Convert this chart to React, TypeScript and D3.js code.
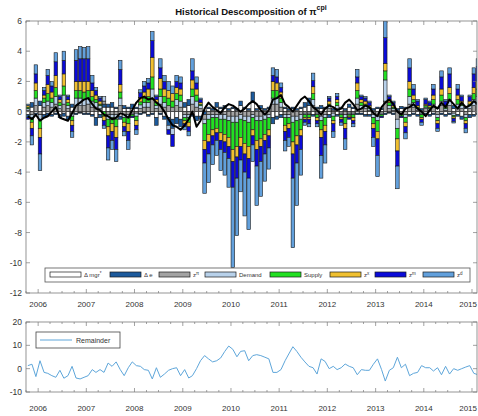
import React from "react";
import * as d3 from "d3";

// ---------- data (monthly, first month = Oct 2005) ----------
const mgr = [-0.2,0.3,-0.1,0.4,-0.2,-0.1,-0.2,-0.1,-0.2,-0.1,-0.3,0.3,-0.1,-0.05,-0.1,-0.1,-0.2,-0.4,-0.2,0.3,0.3,0.3,0.2,-0.3,0.2,0.2,0.2,0.2,-0.1,-0.05,-0.2,-0.1,-0.4,-0.1,-0.3,-0.4,-0.5,-0.4,-0.5,0.3,0.4,-0.2,-0.3,-0.3,0.1,0.2,0.1,0.3,0.2,0.2,0.1,0.2,0.1,0.4,0.2,0.1,0.6,0.1,0.2,0.1,0.2,-0.4,-0.3,-0.2,0.2,0.1,0.2,0.1,0.2,0.3,0.4,-0.2,0.2,0.2,0.2,-0.2,0.1,-0.2,0.2,0.1,0.3,0.2,-0.1,-0.1,-0.2,-0.2,0.1,0.2,0.15,-0.1,-0.05,-0.1,0.1,0.2,0.2,-0.2,-0.1,-0.2,0.1,-0.1,-0.2,-0.1,0.2,-0.1,-0.2,-0.1,0.2,-0.2,-0.3,0.2,-0.2,-0.2,-0.1];
const dE = [-0.2,0.3,-0.1,0.3,-0.2,-0.2,-0.1,-0.1,-0.2,-0.2,-0.2,0.2,-0.1,-0.05,-0.1,-0.1,-0.1,-0.5,-0.2,0.2,0.2,0.3,0.1,-0.2,0.2,0.1,0.3,0.1,-0.1,-0.05,-0.1,-0.1,-0.5,-0.1,-0.2,-0.5,-0.6,-0.4,-0.5,0.3,0.4,-0.1,-0.3,-0.2,-0.2,0.1,0.1,0.3,0.1,0.2,0.1,0.1,0.1,0.3,0.1,0.1,0.7,0.1,0.2,0.1,0.1,-0.4,-0.2,-0.2,0.1,0.1,0.1,0.1,0.1,0.3,0.5,-0.1,0.1,0.2,0.1,-0.2,0.1,-0.1,0.1,0.1,0.2,0.1,-0.1,-0.1,-0.1,-0.1,0.1,0.1,0.1,-0.1,-0.05,-0.1,0.1,0.15,0.1,-0.1,-0.1,-0.1,0.1,-0.1,-0.1,-0.1,0.1,-0.1,-0.1,-0.1,0.2,-0.1,-0.2,0.1,-0.2,-0.1,-0.1];
const zPi = [0.1,-0.2,0.4,-0.2,0.3,0.4,0.3,0.5,0.2,0.5,0.2,-0.1,0.4,0.4,0.4,0.5,0.3,0.3,0.2,0.2,-0.2,-0.2,-0.2,0.4,-0.2,-0.2,-0.1,-0.1,0.2,0.3,0.3,0.8,0.2,0.5,0.3,0.4,0.3,0.4,0.3,-0.2,-0.2,0.5,0.3,0.2,-0.3,-0.2,-0.2,-0.2,-0.2,-0.2,-0.3,-0.3,-0.3,-0.2,-0.3,-0.3,-0.2,-0.3,-0.3,-0.2,-0.2,0.5,0.5,0.3,-0.2,-0.2,-0.3,-0.3,-0.2,-0.1,-0.1,0.4,-0.1,-0.3,-0.2,0.2,-0.1,0.2,-0.1,-0.2,-0.1,-0.1,0.5,0.2,0.2,0.1,-0.2,-0.3,-0.1,0.7,0.2,0.1,-0.5,-0.1,-0.2,0.5,0.3,0.1,-0.1,0.2,0.1,0.3,-0.2,0.4,0.1,0.4,-0.1,0.3,0.2,-0.2,0.2,0.4,0.5];
const demand = [0.1,-0.2,0.5,-0.3,0.3,0.3,0.3,0.5,0.2,0.6,0.2,-0.2,0.5,0.5,0.4,0.4,0.4,0.3,0.2,0.3,-0.3,-0.2,-0.3,0.5,-0.2,-0.2,-0.1,-0.2,0.25,0.3,0.3,0.7,0.2,0.5,0.3,-0.3,-0.4,0.4,0.4,-0.2,-0.2,0.5,0.4,0.2,-0.3,-0.3,-0.2,-0.2,-0.3,-0.3,-0.3,-0.4,-0.4,-0.3,-0.3,-0.4,-0.2,-0.3,-0.3,-0.3,-0.2,0.4,0.4,0.3,-0.2,-0.2,-0.4,-0.3,-0.3,-0.1,-0.1,0.4,-0.1,-0.3,-0.2,0.2,-0.2,0.2,-0.1,-0.2,-0.1,-0.1,0.4,0.2,0.2,0.1,-0.2,-0.3,-0.1,1.4,0.2,0.1,-0.6,-0.1,-0.2,0.5,0.3,0.1,-0.1,0.1,0.1,0.2,-0.2,0.3,0.1,0.4,-0.15,0.2,0.2,-0.2,0.2,0.4,0.5];
const supply = [0.1,-0.3,0.5,-0.6,0.3,0.5,0.3,0.6,0.2,0.6,0.2,-0.3,0.5,0.5,0.5,0.5,0.3,0.2,0.1,-0.3,-0.5,-0.4,-0.5,0.4,-0.3,-0.4,-0.1,-0.3,0.2,0.3,0.4,0.8,0.2,0.5,0.4,0.5,0.4,0.4,0.4,-0.2,-0.3,0.5,0.4,0.1,-1.1,-1.0,-0.8,-0.7,-0.9,-1.0,-1.1,-1.8,-1.6,-1.2,-1.5,-1.6,-0.8,-1.3,-1.2,-1.0,-0.8,0.5,0.5,0.3,-0.5,-0.4,-1.3,-1.0,-0.7,-0.2,-0.2,0.4,-0.2,-0.6,-0.5,0.1,-0.3,0.2,-0.2,-0.4,-0.1,-0.2,0.5,0.2,0.1,0.1,-0.4,-0.7,-0.1,0.6,0.2,0.1,-0.7,-0.1,-0.3,0.5,0.2,0.1,-0.2,0.1,0.1,0.3,-0.2,0.4,0.1,0.4,-0.1,0.3,0.1,-0.2,0.1,0.4,0.5];
const zX = [0.1,-0.4,0.5,-0.6,0.2,0.6,0.4,0.8,0.2,0.8,0.2,-0.3,0.6,0.6,0.7,0.6,0.4,0.3,0.2,-0.3,-0.6,-0.5,-0.7,0.5,-0.3,-0.5,0.0,-0.3,0.3,0.4,0.5,1.3,0.2,0.7,0.5,0.5,0.5,0.4,0.4,-0.2,-0.3,0.6,0.4,0.1,-0.6,-0.5,-0.4,-0.3,-0.5,-0.5,-0.6,-0.8,-0.7,-0.6,-0.7,-0.8,-0.4,-0.6,-0.5,-0.4,-0.4,0.6,0.5,0.4,-0.4,-0.3,-0.8,-0.6,-0.4,-0.1,-0.1,0.45,-0.2,-0.5,-0.4,0.2,-0.2,0.2,-0.1,-0.3,-0.1,-0.2,0.5,0.2,0.2,0.1,-0.3,-0.5,0.0,0.5,0.2,0.1,-0.8,0.0,-0.3,0.5,0.3,0.1,-0.1,0.1,0.1,0.3,-0.2,0.4,0.1,0.4,-0.1,0.3,0.2,-0.2,0.2,0.4,0.5];
const zM = [-0.1,-0.5,0.6,-1.1,0.3,0.6,0.4,0.9,0.2,0.9,0.2,-0.4,1.4,1.5,1.5,1.5,0.5,0.3,0.2,-0.3,-0.8,-0.6,-0.8,1.0,-0.3,-0.6,-0.1,-0.3,0.3,0.4,0.4,1.1,0.2,0.7,0.5,-0.3,-0.8,0.4,0.4,-0.2,-0.3,0.6,0.4,0.2,-0.9,-0.8,-0.6,-0.5,-0.6,-0.7,-0.8,-1.7,-1.4,-0.9,-1.2,-1.3,-0.6,-1.1,-1.0,-0.9,-0.8,0.4,0.4,0.3,-0.6,-0.6,-1.6,-1.2,-0.9,-0.2,-0.3,0.4,-0.2,-1.2,-0.9,0.2,-0.5,0.2,-0.2,-0.7,-0.1,-0.2,0.4,0.2,0.2,0.2,-0.6,-1.1,-0.1,1.7,0.2,0.2,-1.0,-0.1,-0.4,0.9,0.4,0.3,-0.2,0.3,0.2,0.4,-0.3,0.8,0.3,0.9,-0.2,0.4,0.3,-0.3,0.3,0.9,1.0];
const zD = [0.1,-0.6,0.6,-1.1,0.2,0.4,0.3,0.6,0.1,0.6,0.1,-0.4,0.7,0.8,0.75,0.8,0.5,0.2,0.1,-0.2,-0.8,-0.6,-0.8,0.6,-0.3,-0.6,0.0,-0.3,0.2,0.3,0.3,0.6,0.1,0.6,0.4,0.6,0.5,0.4,0.4,-0.2,-0.3,0.8,0.4,0.1,-2.0,-1.9,-1.3,-1.0,-1.4,-1.5,-1.9,-5.3,-3.8,-2.1,-2.9,-3.4,-1.1,-2.6,-2.3,-1.8,-1.4,0.5,0.5,0.3,-0.7,-0.6,-4.6,-2.8,-1.7,-0.2,-0.2,0.5,-0.2,-1.5,-1.2,0.1,-0.4,0.2,-0.2,-0.7,0.0,-0.2,0.5,0.1,0.1,0.1,-0.6,-1.4,0.0,1.1,0.1,0.1,-1.5,0.0,-0.4,0.6,0.3,0.1,-0.2,0.1,0.1,0.3,-0.2,0.4,0.1,0.4,-0.1,0.3,0.1,-0.3,0.1,0.4,0.5];
const actual = [-0.3,-0.5,-0.2,-0.6,-0.4,-0.3,0.0,0.3,-0.4,-0.5,-0.6,-0.1,0.4,0.6,0.8,0.9,0.5,0.2,0.1,-0.2,-0.3,-0.5,-0.4,-0.1,-0.2,-0.4,0.1,0.6,0.9,1.0,0.8,0.9,0.6,0.4,0.0,-0.5,-0.9,-1.0,-1.2,-0.9,-0.5,0.0,-1.0,-0.6,0.2,0.6,0.3,0.1,-0.1,0.3,0.5,0.4,0.2,0.0,0.2,0.5,0.7,0.5,0.1,-0.2,0.1,0.8,0.9,1.1,0.5,0.3,0.0,0.4,0.8,1.0,0.7,0.3,0.1,-0.2,0.2,0.4,0.3,0.1,0.2,0.6,0.8,0.5,0.1,0.2,0.4,0.3,-0.1,-0.3,0.3,0.6,0.8,0.5,0.0,-0.2,0.2,0.3,0.5,0.2,0.0,-0.3,0.1,0.4,0.2,0.6,0.3,0.8,0.5,0.2,0.6,0.3,0.4,0.7,0.5];
const remainder = [1.3,1.9,-3.4,3.4,-1.6,-2,-3,-3.7,-0.7,-4.1,-3,1,-4,-4.4,-3.7,-3,-0.4,-1.6,-0.4,-1.6,2.4,1,2.9,-0.4,-3,0.4,2.9,1.3,1,-0.4,-0.7,-4.4,0.4,-3.7,-2.3,-0.7,0,0.4,-3,-0.4,-4,-3,0,3.4,5.6,4.2,2.9,3.4,4.6,7.4,9.7,8.3,5.1,7.4,7.7,3.4,5.6,6,5.6,4.9,4.2,-1.6,-1.6,-0.4,3.4,6.3,9.4,7.4,4.9,2.9,1,0.4,-2.3,4.2,3.1,0,1,-0.4,0.4,2,1,0.4,-2.6,-0.4,-0.7,-0.7,1.9,4.2,-0.4,-5.3,-0.7,0.4,4.9,0.4,1.9,-3,-2,-1.6,1.3,0.4,0.4,-1,0.4,-2.6,1,-2.3,0,-0.7,0,0.7,1.3,-2,-2.6];

const seriesKeys = ["mgr", "dE", "zPi", "demand", "supply", "zX", "zM", "zD"];
const seriesData = [mgr, dE, zPi, demand, supply, zX, zM, zD];
const seriesLabels = [["Δ mgr", "*"], ["Δ e", ""], ["z", "π"], ["Demand", ""], ["Supply", ""], ["z", "x"], ["z", "m"], ["z", "d"]];
const seriesColors = ["#ffffff", "#1c5a9c", "#a3a3a3", "#b8d1ea", "#22e022", "#f0c030", "#0b0bd8", "#62a0dc"];
const yearTicks = [2006, 2007, 2008, 2009, 2010, 2011, 2012, 2013, 2014, 2015];
const topYTicks = [-12, -10, -8, -6, -4, -2, 0, 2, 4, 6];
const botYTicks = [-10, 0, 10, 20];

const FONT = "'Liberation Sans', Arial, Helvetica, sans-serif";

export default function App() {
  const W = 478, H = 416;
  const L = 26, R = 477;
  const topT = 21, topB = 293;
  const botT = 322, botB = 392;
  const N = mgr.length;
  const dates = d3.range(N).map((i) => new Date(2005, 9 + i, 15));

  const x = d3.scaleTime().domain([new Date(2005, 9, 1), new Date(2015, 1, 8)]).range([L, R]);
  const yT = d3.scaleLinear().domain([-12, 6]).range([topB, topT]);
  const yB = d3.scaleLinear().domain([-10, 20]).range([botB, botT]);

  const rows = dates.map((d, i) => {
    const r: any = { date: d };
    seriesKeys.forEach((k, j) => (r[k] = seriesData[j][i]));
    return r;
  });
  const stacked = d3.stack<any>().keys(seriesKeys).offset(d3.stackOffsetDiverging)(rows);
  const bw = (x(dates[1]) - x(dates[0])) * 0.86;

  const actLine = d3.line<number>().x((_, i) => x(dates[i])).y((v) => yT(v))(actual) || "";
  const remLine = d3.line<number>().x((_, i) => x(dates[i])).y((v) => yB(v))(remainder.slice(0, N)) || "";

  const yearDates = yearTicks.map((y) => new Date(y, 0, 1));
  const quarterDates = d3.timeMonth.every(3)!.range(new Date(2005, 9, 1), new Date(2015, 2, 1))
    .filter((d) => d.getMonth() !== 0 && x(d) >= L && x(d) <= R);

  const frameColor = "#7a7a7a";
  const textColor = "#333";

  const axisTicks = (t: number, b: number) => (
    <g stroke={frameColor} strokeWidth={0.7}>
      {yearDates.map((d, i) => (
        <g key={"y" + i}>
          <line x1={x(d)} x2={x(d)} y1={b} y2={b - 4} />
          <line x1={x(d)} x2={x(d)} y1={t} y2={t + 4} />
        </g>
      ))}
      {quarterDates.map((d, i) => (
        <g key={"q" + i}>
          <line x1={x(d)} x2={x(d)} y1={b} y2={b - 2} />
          <line x1={x(d)} x2={x(d)} y1={t} y2={t + 2} />
        </g>
      ))}
    </g>
  );

  const yearLabel = (d: Date, i: number, yy: number) => {
    const last = i === yearDates.length - 1;
    return (
      <text key={i} x={last ? W - 1 : x(d)} y={yy} textAnchor={last ? "end" : "middle"}>{yearTicks[i]}</text>
    );
  };

  const legendX0 = [50, 110, 159, 205, 270, 330, 375, 423];

  return (
    <svg width={W} height={H} style={{ position: "absolute", left: 0, top: 0, background: "#fff" }} fontFamily={FONT}>
      <defs>
        <clipPath id="clipTop"><rect x={L} y={topT} width={R - L} height={topB - topT} /></clipPath>
        <clipPath id="clipBot"><rect x={L} y={botT} width={R - L} height={botB - botT} /></clipPath>
      </defs>

      {/* title */}
      <text x={251} y={15} textAnchor="middle" fontSize={9.5} fontWeight="bold" fill="#111">
        Historical Descomposition of π
        <tspan dy={-5} fontSize={7}>cpi</tspan>
      </text>

      {/* top panel */}
      <rect x={L} y={topT} width={R - L} height={topB - topT} fill="#fff" />
      <g clipPath="url(#clipTop)">
        {stacked.map((layer, j) => (
          <g key={j} fill={seriesColors[j]} stroke="#1a1a1a" strokeWidth={0.6}>
            {layer.map((s, i) => {
              const y0 = yT(s[0]), y1 = yT(s[1]);
              const h = Math.abs(y0 - y1);
              if (h < 0.01) return null;
              return <rect key={i} x={x(dates[i]) - bw / 2} y={Math.min(y0, y1)} width={bw} height={h} />;
            })}
          </g>
        ))}
        <path d={actLine} fill="none" stroke="#000" strokeWidth={2} strokeLinejoin="round" />
      </g>
      <rect x={L} y={topT} width={R - L} height={topB - topT} fill="none" stroke={frameColor} strokeWidth={0.8} />
      {axisTicks(topT, topB)}
      <g stroke={frameColor} strokeWidth={0.7}>
        {topYTicks.map((v) => (
          <g key={v}>
            <line x1={L} x2={L + 4} y1={yT(v)} y2={yT(v)} />
            <line x1={R} x2={R - 4} y1={yT(v)} y2={yT(v)} />
          </g>
        ))}
      </g>
      <g fontSize={8.5} fill={textColor} textAnchor="end">
        {topYTicks.map((v) => (
          <text key={v} x={L - 4} y={yT(v) + 3}>{v}</text>
        ))}
      </g>
      <g fontSize={8} fill={textColor}>
        {yearDates.map((d, i) => yearLabel(d, i, 307))}
      </g>

      {/* top legend */}
      <rect x={45} y={268} width={425} height={14} fill="#fff" stroke="#555" strokeWidth={0.8} />
      {seriesLabels.map((lab, j) => (
        <g key={j}>
          <rect x={legendX0[j]} y={272} width={31} height={5} fill={seriesColors[j]} stroke="#1a1a1a" strokeWidth={0.7} />
          <text x={legendX0[j] + 34} y={277} fontSize={6} fill={textColor}>
            {lab[0]}
            {lab[1] ? <tspan dy={-2.5} fontSize={4.5}>{lab[1]}</tspan> : null}
          </text>
        </g>
      ))}

      {/* bottom panel */}
      <rect x={L} y={botT} width={R - L} height={botB - botT} fill="#fff" />
      <g clipPath="url(#clipBot)">
        <path d={remLine} fill="none" stroke="#5ea6da" strokeWidth={1} strokeLinejoin="round" />
      </g>
      <rect x={L} y={botT} width={R - L} height={botB - botT} fill="none" stroke={frameColor} strokeWidth={0.8} />
      {axisTicks(botT, botB)}
      <g stroke={frameColor} strokeWidth={0.7}>
        {botYTicks.map((v) => (
          <g key={v}>
            <line x1={L} x2={L + 4} y1={yB(v)} y2={yB(v)} />
            <line x1={R} x2={R - 4} y1={yB(v)} y2={yB(v)} />
          </g>
        ))}
      </g>
      <g fontSize={8.5} fill={textColor} textAnchor="end">
        {botYTicks.map((v) => (
          <text key={v} x={L - 4} y={yB(v) + 3}>{v}</text>
        ))}
      </g>
      <g fontSize={8} fill={textColor}>
        {yearDates.map((d, i) => yearLabel(d, i, 411))}
      </g>
      <rect x={36} y={332} width={84} height={16} fill="#fff" stroke="#444" strokeWidth={0.8} />
      <line x1={40} x2={72} y1={340} y2={340} stroke="#5ea6da" strokeWidth={1} />
      <text x={76} y={343} fontSize={7} fill={textColor}>Remainder</text>
    </svg>
  );
}
